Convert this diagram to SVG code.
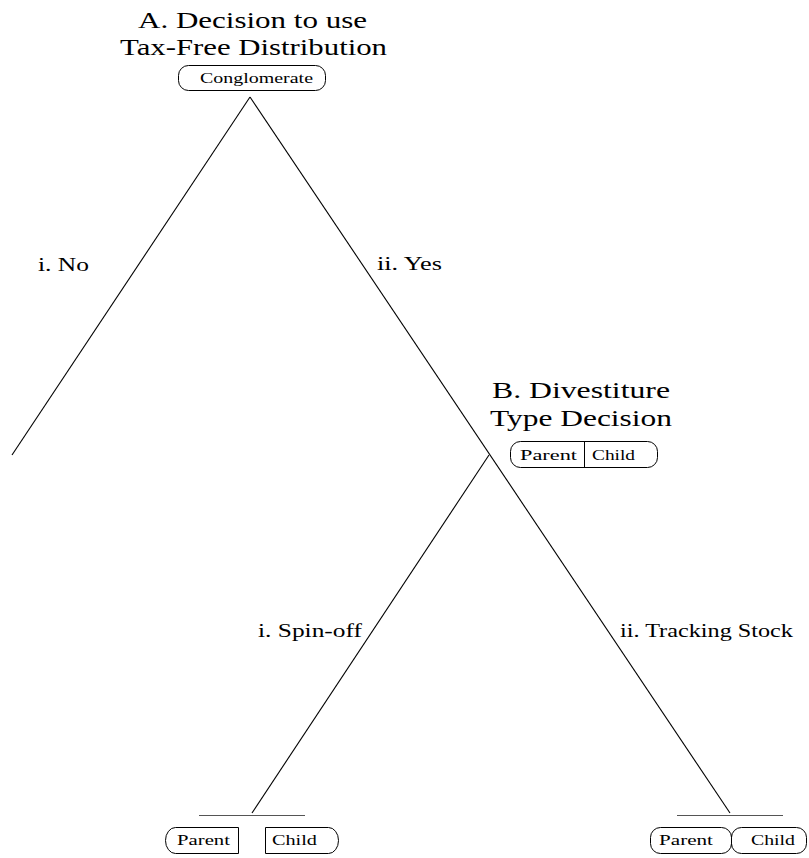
<svg xmlns="http://www.w3.org/2000/svg" width="809" height="858" viewBox="0 0 809 858">
<style>
text{font-family:"Liberation Serif","DejaVu Serif",serif;fill:#000}
.title{font-size:24px}
.lab{font-size:18.5px}
.bx{font-size:15px}
.box{fill:none;stroke:#000;stroke-width:1}
.edge{stroke:#000;stroke-width:1.1;fill:none}
.base{stroke:#555;stroke-width:1;fill:none}
</style>
<rect width="809" height="858" fill="#fff"/>
<g id="connectors">
<line class="edge" x1="250" y1="97" x2="12" y2="455"/>
<line class="edge" x1="250" y1="97" x2="730" y2="813"/>
<line class="edge" x1="489" y1="455" x2="252" y2="813"/>
<line class="base" x1="199" y1="815.5" x2="305" y2="815.5"/>
<line class="base" x1="677" y1="815.5" x2="783" y2="815.5"/>
<text class="lab" x="38" y="271" textLength="51" lengthAdjust="spacingAndGlyphs">i. No</text>
<text class="lab" x="377" y="270" textLength="65" lengthAdjust="spacingAndGlyphs">ii. Yes</text>
<text class="lab" x="258" y="637" textLength="104" lengthAdjust="spacingAndGlyphs">i. Spin-off</text>
<text class="lab" x="620" y="637" textLength="173" lengthAdjust="spacingAndGlyphs">ii. Tracking Stock</text>
</g>
<g id="nodeA">
<text class="title" x="138" y="28" textLength="229" lengthAdjust="spacingAndGlyphs">A. Decision to use</text>
<text class="title" x="120" y="55" textLength="267" lengthAdjust="spacingAndGlyphs">Tax-Free Distribution</text>
<rect class="box" x="178.5" y="65.5" width="147" height="25" rx="10" ry="10"/>
<text class="bx" x="200" y="82.5" textLength="113" lengthAdjust="spacingAndGlyphs">Conglomerate</text>
</g>
<g id="nodeB">
<text class="title" x="492" y="398" textLength="178" lengthAdjust="spacingAndGlyphs">B. Divestiture</text>
<text class="title" x="490" y="426" textLength="182" lengthAdjust="spacingAndGlyphs">Type Decision</text>
<rect class="box" x="510.5" y="441.5" width="147" height="26" rx="10" ry="10"/>
<line class="box" x1="584.5" y1="441.5" x2="584.5" y2="467.5"/>
<text class="bx" x="520" y="460" textLength="57" lengthAdjust="spacingAndGlyphs">Parent</text>
<text class="bx" x="592" y="460" textLength="43" lengthAdjust="spacingAndGlyphs">Child</text>
</g>
<g id="leafSpinoff">
<path class="box" d="M238.5 827.5 H175.5 A10 13 0 0 0 175.5 853.5 H238.5 Z"/>
<text class="bx" x="177" y="845" textLength="53" lengthAdjust="spacingAndGlyphs">Parent</text>
<path class="box" d="M265.5 827.5 H328.5 A10 13 0 0 1 328.5 853.5 H265.5 Z"/>
<text class="bx" x="272" y="845" textLength="45" lengthAdjust="spacingAndGlyphs">Child</text>
</g>
<g id="leafTracking">
<rect class="box" x="650.5" y="827.5" width="81" height="26" rx="10" ry="10"/>
<text class="bx" x="659" y="845" textLength="54" lengthAdjust="spacingAndGlyphs">Parent</text>
<rect class="box" x="731.5" y="827.5" width="75" height="26" rx="10" ry="10"/>
<text class="bx" x="751" y="845" textLength="44" lengthAdjust="spacingAndGlyphs">Child</text>
</g>
</svg>
